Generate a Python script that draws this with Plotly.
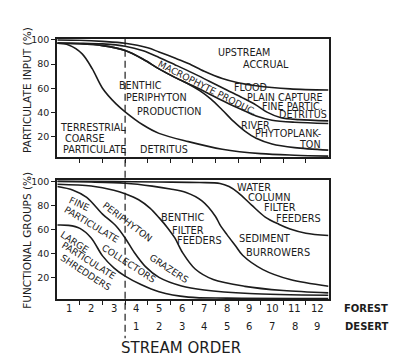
import plotly.graph_objects as go

# page body has an 8px margin: the figure is drawn 8px in from the top-left corner
OFF = 8
W, H = 398 - OFF, 359 - OFF
INK = "#1c1c1c"
FONT = "DejaVu Sans"

# ---------------- data: top panel (particulate input, %) ----------------
upstream_x = [0.5, 1.5, 2.5, 3.5, 4.5, 5.0, 5.7, 6.3, 7.0, 7.8, 8.5, 9.3, 10.8, 12.5]
upstream_y = [100, 99.7, 98.8, 97.3, 93.5, 90, 85, 80.5, 74, 68, 64.5, 62, 59.5, 58.5]

flood_x = [0.5, 1.5, 2.5, 3.5, 4.3, 5.0, 5.7, 6.5, 7.2, 8.0, 8.7, 9.3, 9.8, 10.4, 11.2, 12.5]
flood_y = [97.5, 97.3, 96.7, 94.8, 91, 85.5, 79.5, 72.5, 66, 58.5, 52, 46, 40, 35.5, 34, 33.0]

macro_x = [0.5, 1.5, 2.5, 3.5, 4.3, 5.0, 5.7, 6.5, 7.2, 8.0, 8.7, 9.3, 10.0, 11.0, 12.5]
macro_y = [97.2, 96.8, 95.3, 91.2, 84, 76, 69, 62, 55.5, 48, 42, 37, 33.5, 31.8, 30.8]

phyto_x = [0.5, 1.5, 2.5, 3.5, 4.3, 5.0, 5.7, 6.3, 6.8, 7.3, 7.8, 8.3, 8.8, 9.3, 10.0, 11.0, 12.5]
phyto_y = [97.2, 96.8, 95.3, 91.2, 84, 76, 69, 63.5, 58, 51, 42, 32.5, 24.5, 18.5, 13.8, 10.8, 8.7]

terr_x = [0.5, 1.0, 1.6, 2.05, 2.5, 3.1, 3.5, 4.3, 5.0, 6.3, 7.8, 9.5, 11.0, 12.5]
terr_y = [97.2, 95.8, 88.5, 76, 60, 47, 40.5, 29.5, 22.6, 15.8, 9.5, 5.8, 4.5, 3.8]

# ---------------- data: bottom panel (functional groups, %) ----------------
water_x = [0.5, 3.0, 5.0, 6.8, 7.7, 8.1, 8.5, 9.1, 9.7, 10.3, 10.8, 11.5, 12.5]
water_y = [100.4, 100.2, 99.8, 99.4, 98.6, 96, 91, 80.5, 70.5, 64.5, 60.5, 57, 55]

sediment_x = [0.5, 2.0, 3.5, 4.7, 5.5, 6.2, 6.9, 7.5, 7.7, 8.0, 8.4, 8.7, 9.6, 10.8, 12.5]
sediment_y = [100.2, 99.8, 98.8, 96.4, 94, 91, 84, 71, 64, 56, 46, 38.5, 26.5, 18.2, 12.6]

benthic_x = [0.5, 2.0, 3.0, 3.5, 4.1, 4.6, 5.0, 5.4, 5.7, 6.05, 6.6, 7.4, 8.8, 10.5, 12.5]
benthic_y = [98, 96.5, 93, 90, 85, 78, 70, 61, 53, 40.5, 27, 18.2, 12.5, 9, 7]

grazer_x = [0.5, 1.2, 1.8, 2.5, 3.1, 3.5, 3.9, 4.4, 5.0, 6.0, 7.0, 9.0, 12.5]
grazer_y = [96, 93, 87, 73, 63, 53, 41, 29, 20, 12.8, 9.5, 6.5, 5]

collector_x = [0.5, 1.0, 1.5, 2.0, 2.5, 3.0, 3.5, 4.2, 5.0, 6.3, 8.0, 12.5]
collector_y = [63.8, 63.5, 61, 53, 38, 28, 21, 14, 8, 3.5, 2.6, 2.2]

# ---------------- tick labels ----------------
y_ticks = [20, 40, 60, 80, 100]
x_minor = [1.5, 2.5, 3.5, 4.5, 5.5, 6.5, 7.5, 8.5, 9.5, 10.5, 11.5]
forest_orders = [1, 2, 3, 4, 5, 6, 7, 8, 9, 10, 11, 12]
forest_labels = ["1", "2", "3", "4", "5", "6", "7", "8", "9", "10", "11", "12"]
desert_orders = [4, 5, 6, 7, 8, 9, 10, 11, 12]
desert_labels = ["1", "2", "3", "4", "5", "6", "7", "8", "9"]

top_curves = [(upstream_x, upstream_y), (flood_x, flood_y), (macro_x, macro_y),
              (phyto_x, phyto_y), (terr_x, terr_y)]
bottom_curves = [(water_x, water_y), (sediment_x, sediment_y), (benthic_x, benthic_y),
                 (grazer_x, grazer_y), (collector_x, collector_y)]


def px(v):
    return (v - OFF) / W


def py(v):
    return 1 - (v - OFF) / H


fig = go.Figure()
for xs, ys in top_curves:
    fig.add_trace(go.Scatter(x=xs, y=ys, xaxis="x", yaxis="y", mode="lines",
                             line=dict(color=INK, width=1.6, shape="spline", smoothing=0.9),
                             hoverinfo="skip", showlegend=False))
for xs, ys in bottom_curves:
    fig.add_trace(go.Scatter(x=xs, y=ys, xaxis="x2", yaxis="y2", mode="lines",
                             line=dict(color=INK, width=1.6, shape="spline", smoothing=0.9),
                             hoverinfo="skip", showlegend=False))

xdom = [px(57.3), px(328.5)]
axis_common = dict(showline=True, mirror=True, linecolor=INK, linewidth=2,
                   showgrid=False, zeroline=False, ticks="outside", ticklen=4,
                   tickwidth=1.3, tickcolor=INK)

fig.update_layout(
    width=W, height=H, margin=dict(l=0, r=0, t=0, b=0),
    paper_bgcolor="white", plot_bgcolor="white",
    font=dict(family=FONT, color=INK, size=10),
    xaxis=dict(domain=xdom, range=[0.5, 12.5], anchor="y", tickmode="array",
               tickvals=x_minor, showticklabels=False, **axis_common),
    yaxis=dict(domain=[py(154.5), py(34.7)], range=[2.7, 100.5], anchor="x",
               tickmode="array", tickvals=y_ticks, tickfont=dict(size=9.5), **axis_common),
    xaxis2=dict(domain=xdom, range=[0.5, 12.5], anchor="y2", tickmode="array",
                tickvals=x_minor, showticklabels=False, **axis_common),
    yaxis2=dict(domain=[py(298.5), py(177.3)], range=[1.6, 101.6], anchor="x2",
                tickmode="array", tickvals=y_ticks, tickfont=dict(size=9.5), **axis_common),
)

# dashed line at the forest/desert stream-order boundary
fig.add_shape(type="line", xref="x", yref="paper", x0=3.5, x1=3.5, y0=py(34), y1=py(338),
              line=dict(color=INK, width=1.2, dash="7px,4px"))

ann = []


def text(t, x, y, xr, yr, size=10, angle=0, bold=False, anchor="center"):
    ann.append(dict(text=("<b>%s</b>" % t) if bold else t, x=x, y=y, xref=xr, yref=yr,
                    showarrow=False, textangle=angle, xanchor=anchor, yanchor="middle",
                    font=dict(size=size, family=FONT, color=INK)))


# top panel labels
for t, x, y in [("UPSTREAM", 8.77, 89.6), ("ACCRUAL", 9.74, 79.3),
                ("FLOOD", 9.03, 60.5), ("PLAIN CAPTURE", 10.58, 52.3),
                ("FINE PARTIC.", 10.9, 44.9), ("DETRITUS", 11.38, 38.0),
                ("RIVER", 9.25, 29.3), ("PHYTOPLANK-", 10.7, 22.4), ("TON", 11.7, 13.0),
                ("BENTHIC", 4.16, 62.5), ("PERIPHYTON", 4.9, 51.9), ("PRODUCTION", 5.45, 40.4),
                ("TERRESTRIAL", 2.08, 27.3), ("COARSE", 1.69, 18.3),
                ("PARTICULATE", 2.13, 9.3), ("DETRITUS", 5.2, 9.3)]:
    text(t, x, y, "x", "y", size=9.6)
text("MACROPHYTE PRODUC.", 7.13, 60.5, "x", "y", size=9.2, angle=27)

# bottom panel labels
for t, x, y in [("WATER", 9.21, 95.0), ("COLUMN", 9.87, 87.0), ("FILTER", 10.34, 78.5),
                ("FEEDERS", 11.18, 69.0), ("BENTHIC", 6.02, 69.7), ("FILTER", 6.29, 58.9),
                ("FEEDERS", 6.77, 50.7), ("SEDIMENT", 9.69, 52.3), ("BURROWERS", 10.27, 40.7)]:
    text(t, x, y, "x2", "y2", size=9.8)
for t, x, y, a in [("FINE", 1.46, 82.1, 25), ("PARTICULATE", 2.04, 64.3, 31),
                   ("COLLECTORS", 3.68, 31.7, 33), ("PERIPHYTON", 3.59, 66.4, 37),
                   ("GRAZERS", 5.45, 27.5, 33), ("LARGE", 1.24, 49.8, 33),
                   ("PARTICULATE", 1.91, 34.1, 32), ("SHREDDERS", 1.77, 24.2, 33)]:
    text(t, x, y, "x2", "y2", size=9.3, angle=a)

# stream order tick rows
for o, lab in zip(forest_orders, forest_labels):
    text(lab, o, py(307.5), "x2", "paper", size=10)
for o, lab in zip(desert_orders, desert_labels):
    text(lab, o, py(326.5), "x2", "paper", size=10)
text("FOREST", px(366), py(307.5), "paper", "paper", size=10, bold=True)
text("DESERT", px(366), py(326.5), "paper", "paper", size=10, bold=True)
text("STREAM ORDER", px(181), py(348), "paper", "paper", size=15)

# axis titles
text("PARTICULATE INPUT (%)", px(27), py(86), "paper", "paper", size=10.5, angle=-90)
text("FUNCTIONAL GROUPS (%)", px(27), py(239), "paper", "paper", size=10.5, angle=-90)

fig.update_layout(annotations=ann)
fig.write_html("out.html")
